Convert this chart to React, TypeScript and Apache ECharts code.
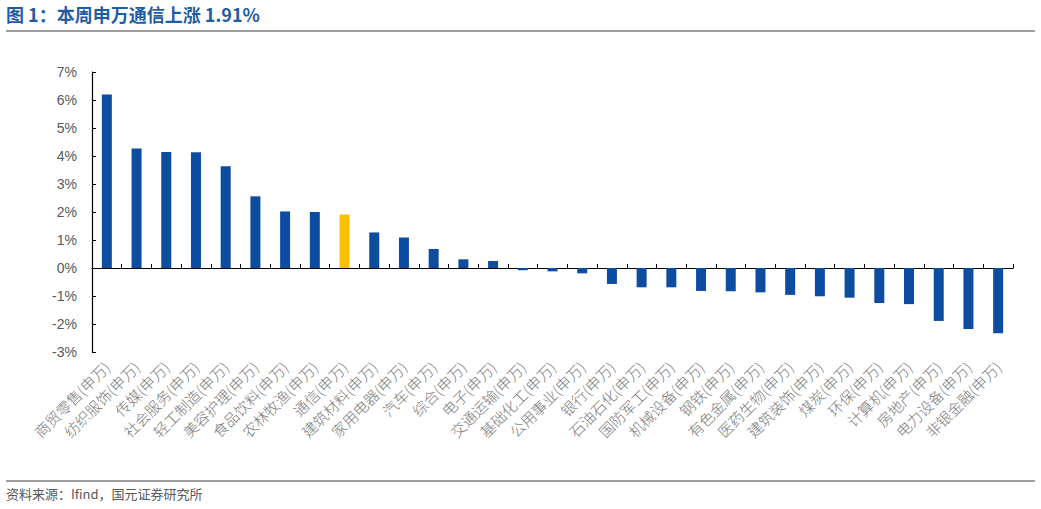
import React, { useEffect, useRef } from "react";
import * as echarts from "echarts";

const categories = [
  "商贸零售(申万)", "纺织服饰(申万)", "传媒(申万)", "社会服务(申万)", "轻工制造(申万)",
  "美容护理(申万)", "食品饮料(申万)", "农林牧渔(申万)", "通信(申万)", "建筑材料(申万)",
  "家用电器(申万)", "汽车(申万)", "综合(申万)", "电子(申万)", "交通运输(申万)",
  "基础化工(申万)", "公用事业(申万)", "银行(申万)", "石油石化(申万)", "国防军工(申万)",
  "机械设备(申万)", "钢铁(申万)", "有色金属(申万)", "医药生物(申万)", "建筑装饰(申万)",
  "煤炭(申万)", "环保(申万)", "计算机(申万)", "房地产(申万)", "电力设备(申万)", "非银金融(申万)",
];
const values = [
  6.2, 4.27, 4.14, 4.13, 3.63, 2.56, 2.02, 2.0, 1.91, 1.27,
  1.09, 0.68, 0.31, 0.25, -0.08, -0.12, -0.19, -0.57, -0.69, -0.69,
  -0.82, -0.83, -0.87, -0.96, -1.01, -1.06, -1.25, -1.29, -1.89, -2.18, -2.33,
];
const highlight = "通信(申万)";
const titleText = "图 1：本周申万通信上涨 1.91%";
const sourceText = "资料来源：Ifind，国元证券研究所";

export default function App() {
  const ref = useRef<HTMLDivElement>(null);
  useEffect(() => {
    if (!ref.current) return;
    const chart = echarts.init(ref.current, null, { renderer: "svg" });
    chart.setOption({
      animation: false,
      backgroundColor: "#ffffff",
      grid: { left: 92, right: 28, top: 72, bottom: 157, containLabel: false },
      graphic: [
        {
          type: "text",
          left: 6,
          top: 5,
          style: {
            text: titleText,
            fill: "#1f5ca6",
            font: "bold 18px 'Noto Sans CJK SC', sans-serif",
          },
        },
        {
          type: "line",
          shape: { x1: 6, y1: 31, x2: 1035, y2: 31 },
          style: { stroke: "#404040", lineWidth: 1.2 },
        },
        {
          type: "line",
          shape: { x1: 6, y1: 481, x2: 1035, y2: 481 },
          style: { stroke: "#404040", lineWidth: 1.2 },
        },
        {
          type: "text",
          left: 6,
          top: 487,
          style: {
            text: sourceText,
            fill: "#595959",
            font: "13px 'Noto Sans CJK SC', sans-serif",
          },
        },
      ],
      xAxis: {
        type: "category",
        data: categories,
        boundaryGap: true,
        position: "bottom",
        axisLine: { onZero: true, lineStyle: { color: "#000", width: 1.2 } },
        axisTick: { show: true, inside: true, length: 4, alignWithLabel: false, lineStyle: { color: "#000" } },
        axisLabel: {
          interval: 0,
          rotate: 45,
          margin: 12,
          color: "#7a7a7a",
          fontSize: 15,
          fontWeight: 300,
          fontFamily: "'Noto Sans CJK SC', serif",
        },
      },
      yAxis: {
        type: "value",
        min: -3,
        max: 7,
        interval: 1,
        splitLine: { show: false },
        axisLine: { show: true, lineStyle: { color: "#000", width: 1.2 } },
        axisTick: { show: true, inside: true, length: 4, lineStyle: { color: "#000" } },
        axisLabel: {
          formatter: "{value}%",
          color: "#595959",
          fontSize: 14,
          margin: 15,
          fontFamily: "'Liberation Sans', Arial, sans-serif",
        },
      },
      series: [
        {
          type: "bar",
          barWidth: 10,
          data: values.map((v, i) => ({
            value: v,
            itemStyle: { color: categories[i] === highlight ? "#ffc000" : "#0c4da2" },
          })),
        },
      ],
    });
    return () => chart.dispose();
  }, []);
  return (
    <div
      ref={ref}
      style={{ position: "absolute", left: 0, top: 0, width: 1041, height: 509 }}
    />
  );
}
